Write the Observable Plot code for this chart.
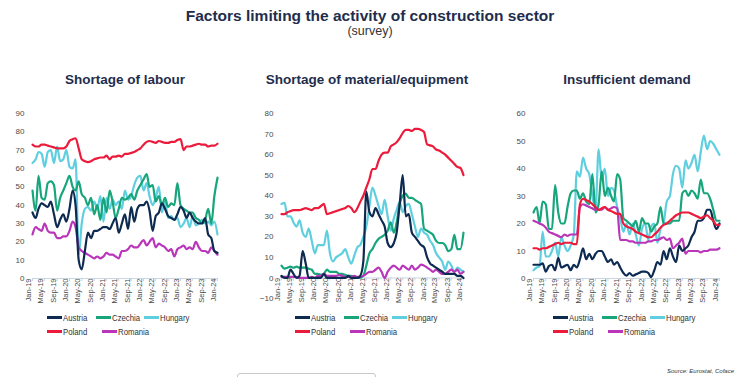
<!DOCTYPE html>
<html>
<head>
<meta charset="utf-8">
<script src="https://cdn.jsdelivr.net/npm/d3@7"></script>
<script src="https://cdn.jsdelivr.net/npm/@observablehq/plot@0.6"></script>
<style>
  html, body { margin: 0; padding: 0; background: #fff; }
  #root { position: relative; width: 740px; height: 377px; overflow: hidden; font-family: "Liberation Sans", Arial, sans-serif; }
  .title { position: absolute; left: 0; width: 740px; top: 7px; text-align: center; font-weight: bold; font-size: 15.5px; color: #1f2d4d; }
  .subtitle { position: absolute; left: 0; width: 740px; top: 24px; text-align: center; font-size: 12.5px; color: #333; }
  .ptitle { position: absolute; top: 72px; text-align: center; font-weight: bold; font-size: 13.5px; color: #1f2d4d; }
  .panel { position: absolute; top: 100px; }
  .leg { position: absolute; font-family: "Liberation Sans", Arial, sans-serif; font-size: 9.5px; color: #333; white-space: nowrap; line-height: 10px; }
  .leg span.sw { display: inline-block; width: 15px; height: 3px; vertical-align: middle; margin-right: 1px; position: relative; top: -1px; }
  .leg span.tx { display: inline-block; transform: scaleX(0.82); transform-origin: left center; }
  .source { position: absolute; right: 6px; top: 368px; font-size: 6px; font-style: italic; color: #333; }
  .box { position: absolute; left: 237px; top: 373px; width: 137px; height: 10px; border: 1px solid #c8c8c8; border-radius: 3px; }
</style>
</head>
<body>
<div id="root">
  <div class="title">Factors limiting the activity of construction sector</div>
  <div class="subtitle">(survey)</div>
  <div class="ptitle" style="left:20px;width:210px">Shortage of labour</div>
  <div class="ptitle" style="left:262px;width:210px">Shortage of material/equipment</div>
  <div class="ptitle" style="left:522px;width:210px">Insufficient demand</div>
  <div class="source">Source: Eurostat, Coface</div>
  <div class="box"></div>
</div>
<script>
// ---------- data ----------
const countries = ["Austria", "Czechia", "Hungary", "Poland", "Romania"];
const colors = ["#0d2a50", "#17a57b", "#5fcfdf", "#ec1b3b", "#b935b9"];
const startMonth = [2019, 0]; // Jan-19, monthly, 61 observations to Jan-24
const tickLabels = ["Jan-19","May-19","Sep-19","Jan-20","May-20","Sep-20","Jan-21","May-21","Sep-21","Jan-22","May-22","Sep-22","Jan-23","May-23","Sep-23","Jan-24"];

// Shortage of labour
const labourAustria = [36,33,38,41,40,39,42,35,28,32,35,31,38,48,40,10,5,15,25,22,26,26,27,28,28,27,30,33,25,30,35,27,39,31,38,40,40,42,37,26,34,36,41,38,34,33,32,35,39,37,33,36,33,31,30,30,33,24,22,15,14];
const labourCzechia = [48,37,56,44,43,52,53,51,37,44,48,52,56,50,48,53,46,44,40,44,35,40,32,44,36,48,42,33,38,44,43,44,46,43,48,51,54,57,50,51,42,45,40,44,39,41,40,52,40,38,37,36,36,33,32,30,32,38,30,45,55];
const labourHungary = [63,65,69,68,61,69,70,63,72,64,65,70,61,60,65,13,30,38,39,37,42,38,45,31,44,38,43,40,42,38,48,43,45,51,55,56,48,52,45,40,44,50,36,42,33,34,32,33,28,30,33,28,34,29,30,32,30,31,29,31,24];
const labourPoland = [73,72,72,73,73,72.5,72,71.5,71,71,71,72,75,76,76.5,71,65,64,63.5,64,65,65.5,66,66,67,65,66.5,66.5,67,66.5,68,68,68.5,69,70,71,73,74.5,75,74.5,74,75,74.5,74,74,74.5,74.5,75.5,76,70,72,72,72.5,73,73.5,73,73,72,72.5,72.5,73.5];
const labourRomania = [24,28,27,26,30,26,25,25,22,22,23,23,26,31,28,17,15,14,13,12,11,12,11,12,14,13,13,12,11,15,15,16,18,17,17,19,21,18,20,22,17,19,18,17,15,16,12,16,17,18,16,17,16,20,17,15,15,14,17,15,13];

// Shortage of material/equipment
const materialAustria = [1,0,0,4,2,0,1,13,7,0,0,0,0,0,2,0,0,0,0,0,0,0,1,0,0,0,1,8,42,32,30,34,31,28,25,17,15,17,22,36,50,30,31,22,20,18,16,15,10,7,6,5,4,3,2,2,2,2,1,1,0];
const materialCzechia = [6,4.5,5,5.5,5,5.5,5,5,5,4.5,4,2,2,1.5,2,4,3,3,3,2,2,1.5,1,1,0.5,0,0,1,6,12,14,17,19,20,21,23,27,22,27,36,40,41,39,39,38,37,36,24,23,22,21,18,17,17,16,13,14,21,14,14,22];
const materialHungary = [36,36.5,30,30,27,25,28,22,20,24,18,12,16,16,16,23,12,8,10,11,12,14,10,7,11,15,16,20,25,35,44,40,35,31,38,30,23,29,33,37,32,35,36,31,25,20,24,22,21,18,16,12,10,8,4,8,6,3,5,4,3];
const materialPoland = [31,31,32,32.5,33,33,33,33.5,34,33.5,33,34,34,35,36,31,31.5,32,32.5,33,33.5,34,35,34,32,34,37,40,44,48,53,53,57,60,61,61,64,65,66,68,70.5,72,72,71.5,72.5,72.5,72,71,65,64.5,64,62.5,62,61,60,58.5,57,55.5,54,53.5,50];
const materialRomania = [0.5,0.5,0.5,0.5,0.5,0.5,0,0,0,0,0.5,0,1,1,2,1,1,1,1,1.5,1,0.5,0.5,0.5,1,0.5,0.5,1,2,3,3,4,5,3,0,3,5,6,5,4,6,5,4,6,4,5,6.5,6,5,4,3,4,3,2,2,3,4,3,4,2,3];

// Insufficient demand
const demandAustria = [5,5,5,5.5,2.5,4.5,5,3,7.5,4,4.5,5,3,5,4,7,11,7,9,7,9,10,10,8,6,7,5,6,4,2,1,2,1,1.5,2,2.5,2.5,2,0.5,3,6,5,10,7,11,8,6,12,10,11,12,15,17,21,21,22,25,25,21,18,20];
const demandCzechia = [24,26,20,28,27,18,18,34,24,20,20,26,31,32,32,29,31,28,27,38,24,27,39,30,33,30,28,38,36,22,21,20,19,21,17,22,20,20,17,19,20,26,20,20,20,21,21,21,31,32,30,32,31,29,36,31,31,29,25,21,21];
const demandHungary = [3,4,4.5,17,8,8,10,13,8,15,12,10,12,16,39,37,44,40,38,30,25,47,36,40,30,33,32,26,22,17,20,16,20,16,12,18,20,14,19,20,13,18,20,28,30,38,41,40,33,43,40,42,45,39,46,52,47,50,49,47,45];
const demandPoland = [11,11,10.5,11,11,11.5,12,12.5,13,12.5,13,13,13,12.5,12.5,27,29,28.5,28,27,26,25,25.5,26,25,24.5,24,23.5,23.5,20,19,18.5,18,17,16.5,16,15.5,15,15,16,17,18.5,19.5,20,21,22,23,23.5,24,24,24,23.5,23,22.5,22,22.5,23,22,21,19.5,19.5];
const demandRomania = [21,20.5,20,19.5,18.5,17,16.5,16,15.5,15,16,15.5,16,16,16,26,27,26.5,26,25.5,25,25,25,26,25,25.5,26,25.5,14,14,14,13.5,13.5,13,13,13,13,13.5,13.5,14,14,14.5,15,14,14.5,11,12,13,14.5,9,10,10,10,10,9.5,10,10,10.5,10.5,10.5,11];

// ---------- helpers ----------
const months = d3.range(61).map(i => new Date(Date.UTC(startMonth[0], startMonth[1] + i, 1)));
const tickDates = tickLabels.map((_, i) => months[i * 4]);

function rows(series) {
  const out = [];
  countries.forEach((c, k) => series[k].forEach((v, i) => out.push({country: c, date: months[i], value: v})));
  return out;
}

const drawOrder = ["Hungary", "Czechia", "Romania", "Austria", "Poland"];

function panel({series, yDomain, yTicks, left, width, mL, mR, mB}) {
  const data = rows(series);
  const chart = Plot.plot({
    width, height: 210,
    marginLeft: mL, marginRight: mR, marginTop: 13, marginBottom: mB,
    style: {fontFamily: "Liberation Sans, Arial, sans-serif", fontSize: "8px", color: "#4a4a4a", background: "transparent", overflow: "visible"},
    x: {type: "utc", domain: [months[0], months[60]], axis: null},
    y: {domain: yDomain, axis: null},
    color: {domain: countries, range: colors},
    marks: [
      Plot.axisY(yTicks, {tickSize: 0, tickPadding: 8, fontSize: 8, fill: "#4a4a4a", label: null}),
      Plot.ruleY([0], {stroke: "#c9d6e3", strokeWidth: 1}),
      Plot.ruleX(tickDates, {x: d => d, y1: () => 0, y2: () => 0, insetTop: 0, insetBottom: -3, stroke: "#c9d6e3"}),
      Plot.text(tickDates, {
        x: d => d, y: () => 0, text: (d, i) => tickLabels[i],
        rotate: -90, textAnchor: "end", dx: -4,
        fontFamily: "Liberation Sans, Arial, sans-serif",
        fontSize: 7.5, fill: "#4a4a4a"
      }),
      ...drawOrder.map(c => Plot.line(data.filter(d => d.country === c), {
        x: "date", y: "value", stroke: "country", strokeWidth: 2.2, curve: "monotone-x"
      }))
    ]
  });
  chart.classList.add("panel");
  chart.style.left = left + "px";
  document.getElementById("root").appendChild(chart);
}

// y range: value top at 113px, baseline at 278px (panel 2: -10 at 298px)
panel({series: [labourAustria, labourCzechia, labourHungary, labourPoland, labourRomania],
  yDomain: [0, 90], yTicks: d3.range(0, 91, 10), left: 0, width: 230, mL: 32, mR: 13, mB: 32});
panel({series: [materialAustria, materialCzechia, materialHungary, materialPoland, materialRomania],
  yDomain: [-10, 80], yTicks: d3.range(-10, 81, 10), left: 250, width: 230, mL: 31, mR: 17, mB: 12});
panel({series: [demandAustria, demandCzechia, demandHungary, demandPoland, demandRomania],
  yDomain: [0, 60], yTicks: d3.range(0, 61, 10), left: 500, width: 235, mL: 33, mR: 16, mB: 32});

// ---------- legends ----------
function legend(left) {
  const root = document.getElementById("root");
  const items = [
    {k: 0, x: 0, y: 313}, {k: 1, x: 49, y: 313}, {k: 2, x: 97, y: 313},
    {k: 3, x: 0, y: 327}, {k: 4, x: 55, y: 327}
  ];
  items.forEach(({k, x, y}) => {
    const d = document.createElement("div");
    d.className = "leg";
    d.style.left = (left + x) + "px";
    d.style.top = y + "px";
    d.innerHTML = `<span class="sw" style="background:${colors[k]}"></span><span class="tx">${countries[k]}</span>`;
    root.appendChild(d);
  });
}
legend(47);
legend(295);
legend(553);
</script>
</body>
</html>
